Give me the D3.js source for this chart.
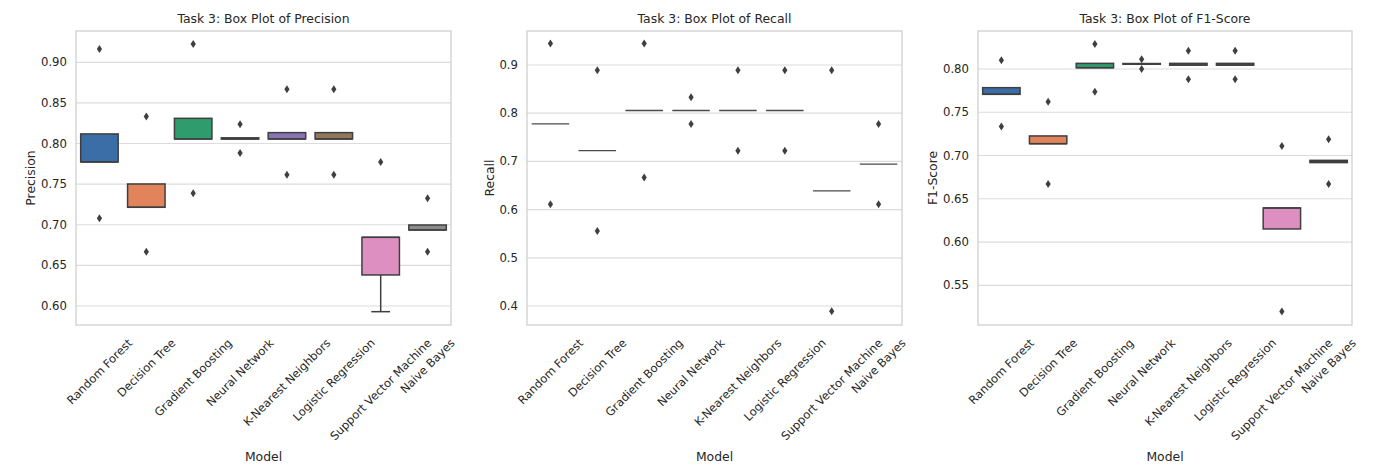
<!DOCTYPE html>
<html>
<head>
<meta charset="utf-8">
<script src="https://cdn.jsdelivr.net/npm/d3@7"></script>
<style>
  body { margin: 0; background: #fff; }
  text { font-family: "DejaVu Sans", sans-serif; fill: #262626; }
</style>
</head>
<body>
<svg width="1381" height="467"></svg>
<script>
// Models and box colours
const models = ["Random Forest", "Decision Tree", "Gradient Boosting", "Neural Network",
  "K-Nearest Neighbors", "Logistic Regression", "Support Vector Machine", "Naive Bayes"];
const boxColors = ["#3b6ea6", "#e1845b", "#2e9c6c", "#c44e52", "#8a73b5", "#93775d", "#de8fc2", "#8c8c8c"];

// Precision box stats
const precQ1 = [0.7773, 0.7215, 0.8056, 0.8056, 0.8056, 0.8056, 0.6382, 0.6936];
const precMedian = [0.7773, 0.7215, 0.8056, 0.8056, 0.8056, 0.8056, 0.6845, 0.6936];
const precQ3 = [0.8118, 0.7502, 0.8310, 0.8070, 0.8134, 0.8134, 0.6845, 0.6997];
const precLow = [0.7773, 0.7215, 0.8056, 0.8056, 0.8056, 0.8056, 0.5930, 0.6936];
const precHigh = [0.8118, 0.7502, 0.8310, 0.8070, 0.8134, 0.8134, 0.6845, 0.6997];
const precOutliers = [[0.9164, 0.7079], [0.8331, 0.6669], [0.9226, 0.7387], [0.8237, 0.7884],
  [0.8668, 0.7617], [0.8668, 0.7617], [0.7773], [0.7326, 0.6669]];
const precTicks = [0.60, 0.65, 0.70, 0.75, 0.80, 0.85, 0.90];

// Recall box stats (every box collapses to one line)
const recQ1 = [0.7778, 0.7222, 0.8056, 0.8056, 0.8056, 0.8056, 0.6389, 0.6944];
const recMedian = [0.7778, 0.7222, 0.8056, 0.8056, 0.8056, 0.8056, 0.6389, 0.6944];
const recQ3 = [0.7778, 0.7222, 0.8056, 0.8056, 0.8056, 0.8056, 0.6389, 0.6944];
const recOutliers = [[0.9444, 0.6111], [0.8889, 0.5556], [0.9444, 0.6667], [0.8333, 0.7778],
  [0.8889, 0.7222], [0.8889, 0.7222], [0.8889, 0.3889], [0.7778, 0.6111]];
const recTicks = [0.4, 0.5, 0.6, 0.7, 0.8, 0.9];

// F1-Score box stats
const f1Q1 = [0.7707, 0.7137, 0.8015, 0.8055, 0.8045, 0.8045, 0.6151, 0.6918];
const f1Median = [0.7707, 0.7137, 0.8015, 0.8058, 0.8045, 0.8045, 0.6394, 0.6930];
const f1Q3 = [0.7784, 0.7226, 0.8065, 0.8063, 0.8065, 0.8065, 0.6394, 0.6944];
const f1Outliers = [[0.8100, 0.7334], [0.7622, 0.6671], [0.8289, 0.7738], [0.8112, 0.8000],
  [0.8212, 0.7881], [0.8212, 0.7881], [0.7110, 0.5196], [0.7187, 0.6671]];
const f1Ticks = [0.55, 0.60, 0.65, 0.70, 0.75, 0.80];

const svg = d3.select("svg");
const top_ = 31, bottom = 325;
const edge = "#3f3f3f";

function drawPanel(p) {
  const g = svg.append("g");
  const x = d3.scaleBand().domain(models).range([p.left, p.right]);
  const y = d3.scaleLinear().domain(p.domain).range([bottom, top_]);
  const bw = x.bandwidth() * 0.8;

  // grid
  g.selectAll(".grid").data(p.ticks).join("line")
    .attr("x1", p.left).attr("x2", p.right)
    .attr("y1", d => y(d)).attr("y2", d => y(d))
    .attr("stroke", "#dcdcdc").attr("stroke-width", 1.2);

  // y tick labels
  g.selectAll(".yt").data(p.ticks).join("text")
    .attr("x", p.left - 9).attr("y", d => y(d))
    .attr("text-anchor", "end").attr("dominant-baseline", "central")
    .style("font-size", "11.7px")
    .text(d => d3.format(p.fmt)(d));

  const lows = p.low || p.q1, highs = p.high || p.q3;

  models.forEach((m, i) => {
    const cx = x(m) + x.bandwidth() / 2;
    // whiskers
    if (lows[i] < p.q1[i]) {
      g.append("line").attr("x1", cx).attr("x2", cx)
        .attr("y1", y(p.q1[i])).attr("y2", y(lows[i]))
        .attr("stroke", edge).attr("stroke-width", 1.5);
      g.append("line").attr("x1", cx - bw / 4).attr("x2", cx + bw / 4)
        .attr("y1", y(lows[i])).attr("y2", y(lows[i]))
        .attr("stroke", edge).attr("stroke-width", 1.5);
    }
    if (highs[i] > p.q3[i]) {
      g.append("line").attr("x1", cx).attr("x2", cx)
        .attr("y1", y(p.q3[i])).attr("y2", y(highs[i]))
        .attr("stroke", edge).attr("stroke-width", 1.5);
    }
    // box
    const h = y(p.q1[i]) - y(p.q3[i]);
    if (h > 0.3) {
      g.append("rect")
        .attr("x", cx - bw / 2).attr("y", y(p.q3[i]))
        .attr("width", bw).attr("height", h)
        .attr("fill", boxColors[i]).attr("stroke", edge).attr("stroke-width", 1.5);
    }
    // median
    g.append("line").attr("x1", cx - bw / 2).attr("x2", cx + bw / 2)
      .attr("y1", y(p.median[i])).attr("y2", y(p.median[i]))
      .attr("stroke", h > 0.3 ? edge : "#4a4a4a").attr("stroke-width", h > 0.3 ? 1.5 : 1.3);
    // fliers
    g.selectAll(null).data(p.outliers[i]).join("path")
      .attr("d", "M0,-4 L2.6,0 L0,4 L-2.6,0 Z")
      .attr("transform", d => `translate(${cx},${y(d)})`)
      .attr("fill", edge);
  });

  // frame
  g.append("rect").attr("x", p.left).attr("y", top_)
    .attr("width", p.right - p.left).attr("height", bottom - top_)
    .attr("fill", "none").attr("stroke", "#cccccc").attr("stroke-width", 1.2);

  // title
  g.append("text").attr("x", (p.left + p.right) / 2).attr("y", 23)
    .attr("text-anchor", "middle").style("font-size", "12.4px").text(p.title);

  // y label
  g.append("text")
    .attr("transform", `translate(${p.left - 9 - p.tickW - 11},${(top_ + bottom) / 2}) rotate(-90)`)
    .attr("text-anchor", "middle").attr("dominant-baseline", "central")
    .style("font-size", "12.4px").text(p.ylabel);

  // rotated x tick labels, bbox centred on tick
  models.forEach(m => {
    const cx = x(m) + x.bandwidth() / 2;
    const t = g.append("text")
      .attr("text-anchor", "middle").attr("dominant-baseline", "central")
      .style("font-size", "11.5px").text(m);
    const L = t.node().getComputedTextLength();
    const off = (L + 11) * Math.SQRT1_2 / 2;
    t.attr("transform", `translate(${cx},${337 + off}) rotate(-45)`);
  });

  // x label
  g.append("text").attr("x", (p.left + p.right) / 2).attr("y", 461)
    .attr("text-anchor", "middle").style("font-size", "12.4px").text("Model");
}

drawPanel({ left: 76, right: 451, domain: [0.5766, 0.9385], ticks: precTicks, fmt: ".2f", tickW: 26,
  q1: precQ1, median: precMedian, q3: precQ3, low: precLow, high: precHigh, outliers: precOutliers,
  title: "Task 3: Box Plot of Precision", ylabel: "Precision" });
drawPanel({ left: 527, right: 902, domain: [0.3606, 0.9705], ticks: recTicks, fmt: ".1f", tickW: 18,
  q1: recQ1, median: recMedian, q3: recQ3, outliers: recOutliers,
  title: "Task 3: Box Plot of Recall", ylabel: "Recall" });
drawPanel({ left: 978, right: 1352, domain: [0.5041, 0.8439], ticks: f1Ticks, fmt: ".2f", tickW: 26,
  q1: f1Q1, median: f1Median, q3: f1Q3, outliers: f1Outliers,
  title: "Task 3: Box Plot of F1-Score", ylabel: "F1-Score" });
</script>
</body>
</html>
